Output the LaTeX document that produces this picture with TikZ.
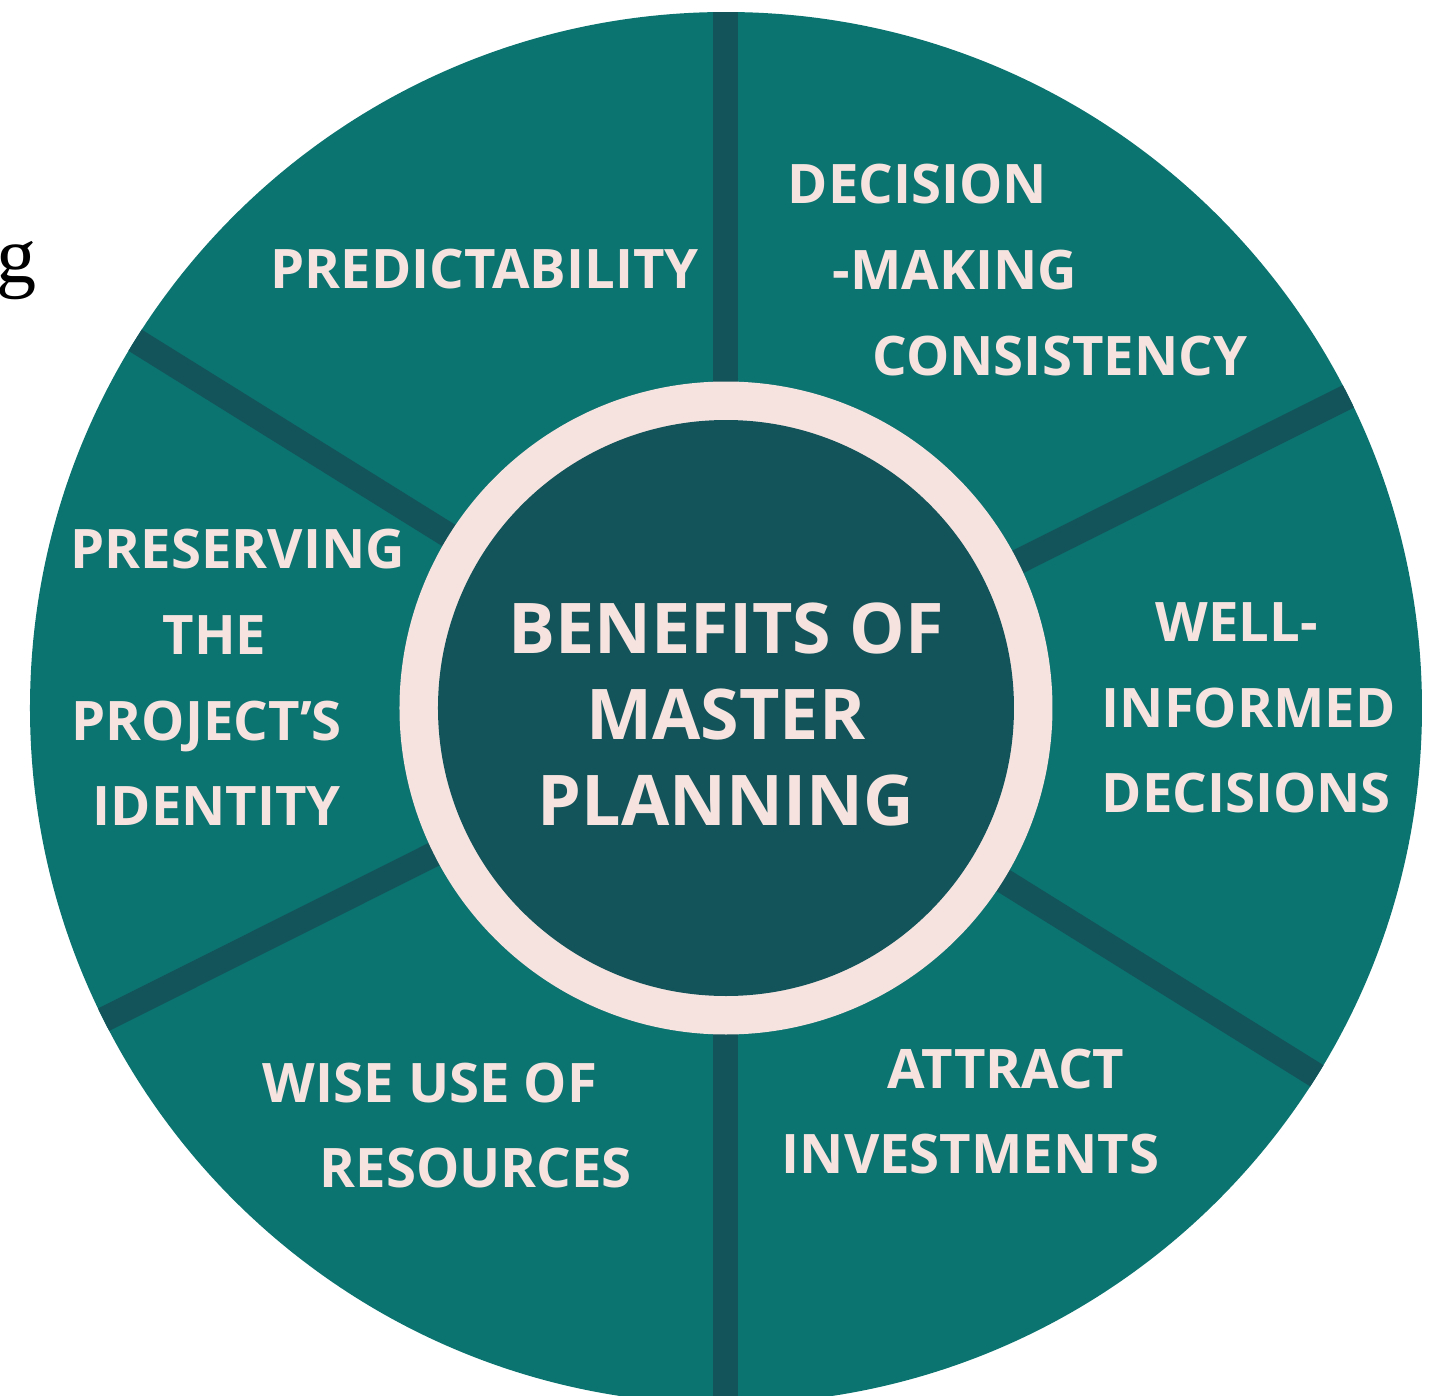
\documentclass[tikz,border=0pt]{standalone}
\usepackage{fontspec}
\setmainfont{Open Sans}
\newfontfamily\pageserif{Liberation Serif}

\definecolor{wheelteal}{RGB}{11,115,112}
\definecolor{spokedark}{RGB}{18,84,89}
\definecolor{ringpink}{RGB}{246,227,224}

\tikzset{
  lbl/.style={anchor=base west, inner sep=0pt, text=ringpink,
    font=\bfseries\fontsize{15.5}{24}\selectfont},
  spoke/.style={draw=spokedark, line width=0.25cm},
}

\begin{document}
\begin{tikzpicture}
\useasboundingbox (-7.26,-6.88) rectangle (7.13,7.08);

% stray letter from the page
\node[anchor=base west, inner sep=0pt, font=\pageserif\fontsize{22.8}{26}\selectfont] (pageg) at (-7.30,4.26) {g};

% wheel and spokes
\coordinate (hub) at (0,0);
\fill[wheelteal] (hub) circle (6.96);
\begin{scope}
\clip (hub) circle (6.96);
\draw[spoke] (90:7.2) -- (270:7.2);
\draw[spoke] (26.6:7.2) -- (206.6:7.2);
\draw[spoke] (148.1:7.2) -- (328.1:7.2);
\end{scope}

% centre ring
\fill[ringpink] (hub) circle (3.265);
\fill[spokedark] (hub) circle (2.88);
\node[inner sep=0pt, align=center, text=ringpink,
  font=\bfseries\fontsize{19.9}{24.6}\selectfont] (title) at (0,-0.065)
  {BENEFITS OF\\MASTER\\PLANNING};

% segment labels
\node[lbl] (predict) at (-4.56,4.20) {PREDICTABILITY};

\node[lbl] (decA) at (0.61,5.05) {DECISION};
\node[lbl] (decB) at (1.06,4.19) {-MAKING};
\node[lbl] (decC) at (1.46,3.33) {CONSISTENCY};

\node[lbl] (wellA) at (4.29,0.67) {WELL-};
\node[lbl] (wellB) at (3.75,-0.19) {INFORMED};
\node[lbl] (wellC) at (3.75,-1.04) {DECISIONS};

\node[lbl] (attrA) at (1.61,-3.80) {ATTRACT};
\node[lbl] (attrB) at (0.55,-4.65) {INVESTMENTS};

\node[lbl] (wiseA) at (-4.64,-3.94) {WISE USE OF};
\node[lbl] (wiseB) at (-4.07,-4.79) {RESOURCES};

\node[lbl] (presA) at (-6.56,1.40) {PRESERVING};
\node[lbl] (presB) at (-5.64,0.54) {THE};
\node[lbl] (presC) at (-6.55,-0.32) {PROJECT’S};
\node[lbl] (presD) at (-6.34,-1.17) {IDENTITY};
\end{tikzpicture}
\end{document}
